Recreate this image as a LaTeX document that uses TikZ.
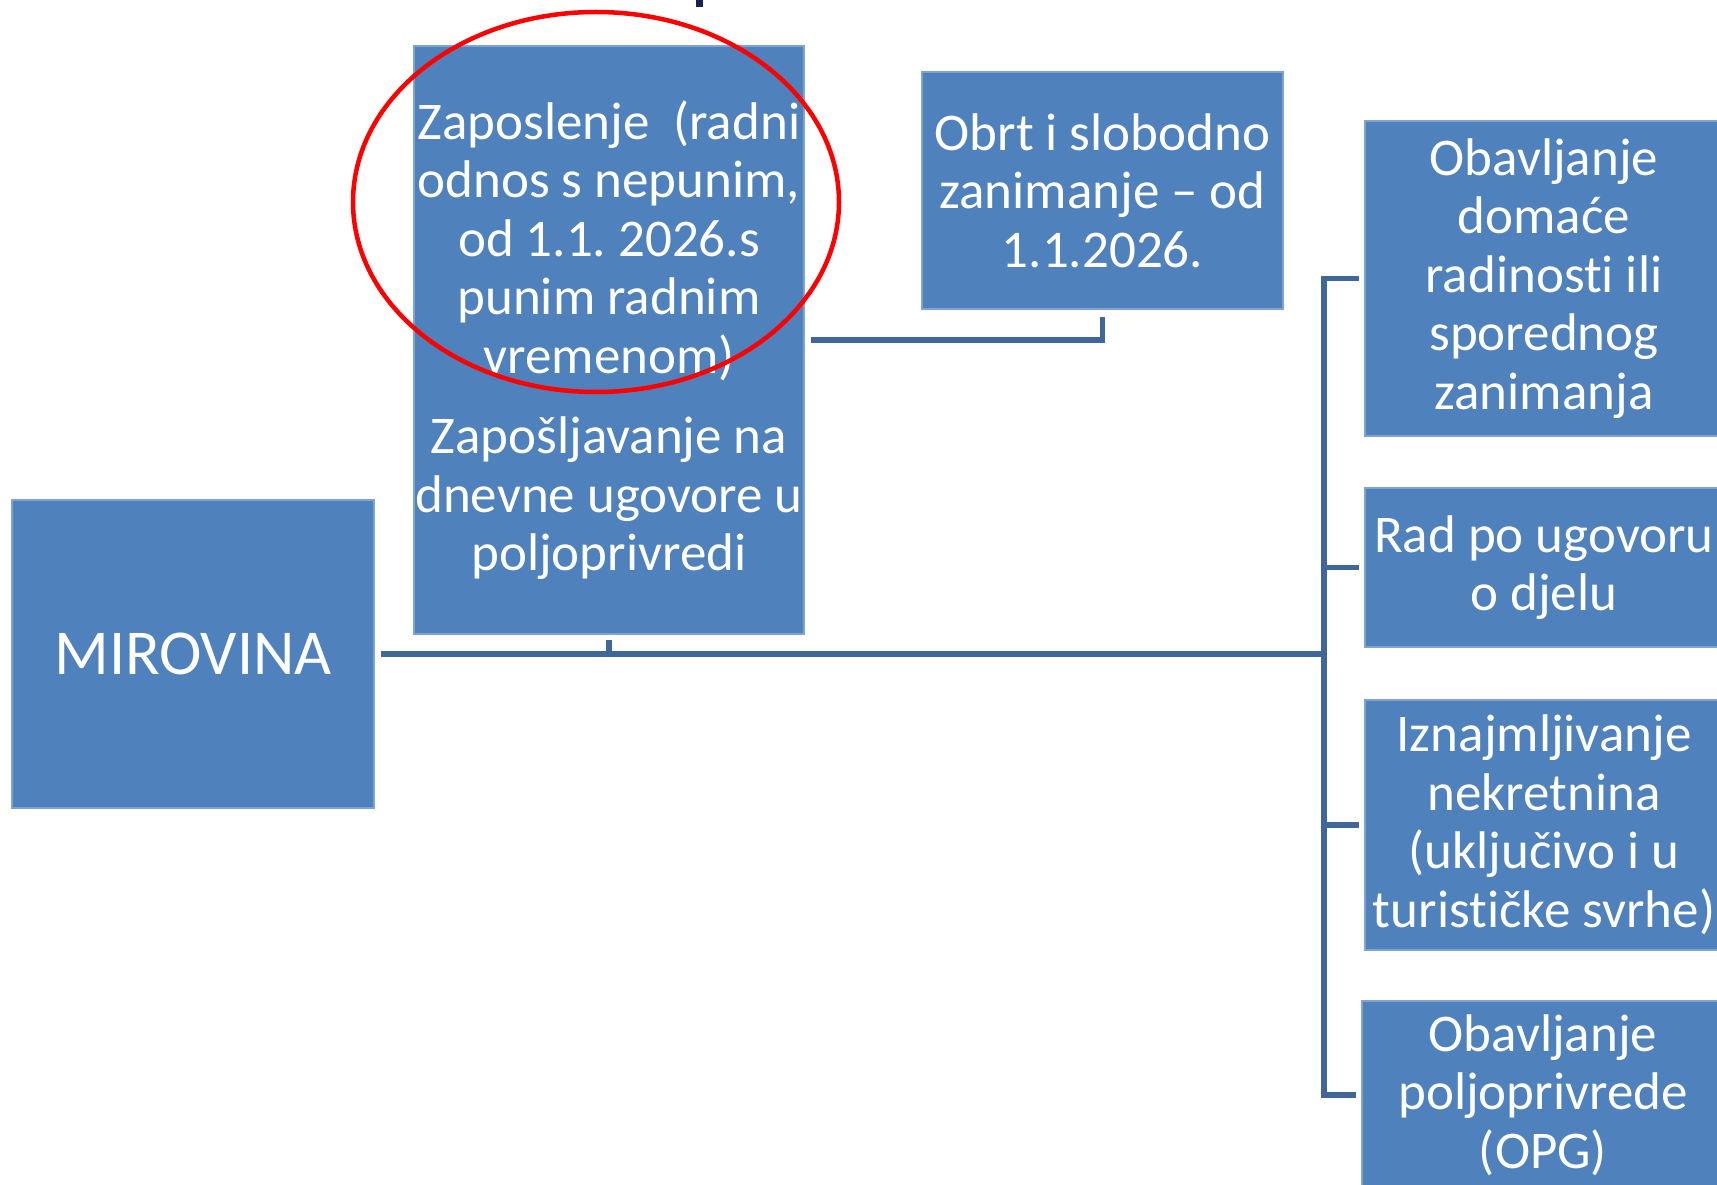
\documentclass[tikz,border=0pt]{standalone}
\usepackage{fontspec}
\setmainfont{Carlito}[Ligatures={NoCommon}]
\frenchspacing
\usetikzlibrary{shapes.geometric}
\definecolor{boxblue}{HTML}{4F81BD}
\definecolor{boxedge}{HTML}{7FA3D2}
\definecolor{connblue}{HTML}{3F6899}
\definecolor{titlenavy}{HTML}{17244F}
\tikzset{
  box/.style={rectangle, fill=boxblue, draw=boxedge, line width=1.2pt, text=white,
    align=center, inner sep=0pt, font=\fontsize{53}{58.5}\selectfont},
  conn/.style={draw=connblue, line width=5.5pt},
  mark ring/.style={ellipse, draw=red, line width=4.5pt, inner sep=0pt},
}
\begin{document}
\begin{tikzpicture}[x=1pt, y=-1pt]
\useasboundingbox (0,0) rectangle (1717,1185);
\clip (0,0) rectangle (1717,1185);
% fragment of cut-off title
\fill[titlenavy] (696,0) rectangle (703,7);

\node[box, minimum width=362, minimum height=308, font=\fontsize{64}{70}\selectfont] (mir) at (193,654) {MIROVINA};
\node[box, minimum width=390, minimum height=588] (zap) at (609,340)
  {Zaposlenje~ (radni\\odnos s nepunim,\\od 1.1. 2026.s\\punim radnim\\vremenom)\\[22pt]Zapošljavanje na\\dnevne ugovore u\\poljoprivredi};
\node[box, minimum width=361, minimum height=237] (obrt) at (1102.5,190.5)
  {Obrt i slobodno\\zanimanje – od\\1.1.2026.};
\node[box, minimum width=358, minimum height=315] (r1) at (1544,278.5)
  {Obavljanje\\domaće\\radinosti ili\\sporednog\\zanimanja};
\node[box, minimum width=358, minimum height=159] (r2) at (1544,567.5)
  {Rad po ugovoru\\o djelu};
\node[box, minimum width=358, minimum height=250] (r3) at (1544,825)
  {Iznajmljivanje\\nekretnina\\(uključivo i u\\turističke svrhe)};
\node[box, minimum width=362, minimum height=188] (r4) at (1543,1095)
  {Obavljanje\\poljoprivrede\\(OPG)};

\coordinate (bus) at (1324,654);
% main line from MIROVINA to the bus
\draw[conn] ([xshift=6pt]mir.east) -- (bus);
% tick up to the middle box
\draw[conn] ([yshift=-5pt]zap.south) -- (zap.south |- bus);
% middle box to Obrt
\draw[conn] ([xshift=6pt]zap.east) -| ([yshift=-7pt]obrt.south);
% right bus
\draw[conn] ([xshift=-5pt]r1.west) -| (bus |- r4.west) -- ([xshift=-5pt]r4.west);
\draw[conn] (bus |- r2.west) -- ([xshift=-5pt]r2.west);
\draw[conn] (bus |- r3.west) -- ([xshift=-5pt]r3.west);

% red highlight ellipse
\node[mark ring, minimum width=486, minimum height=380] (hl) at (596,202) {};
\end{tikzpicture}
\end{document}
